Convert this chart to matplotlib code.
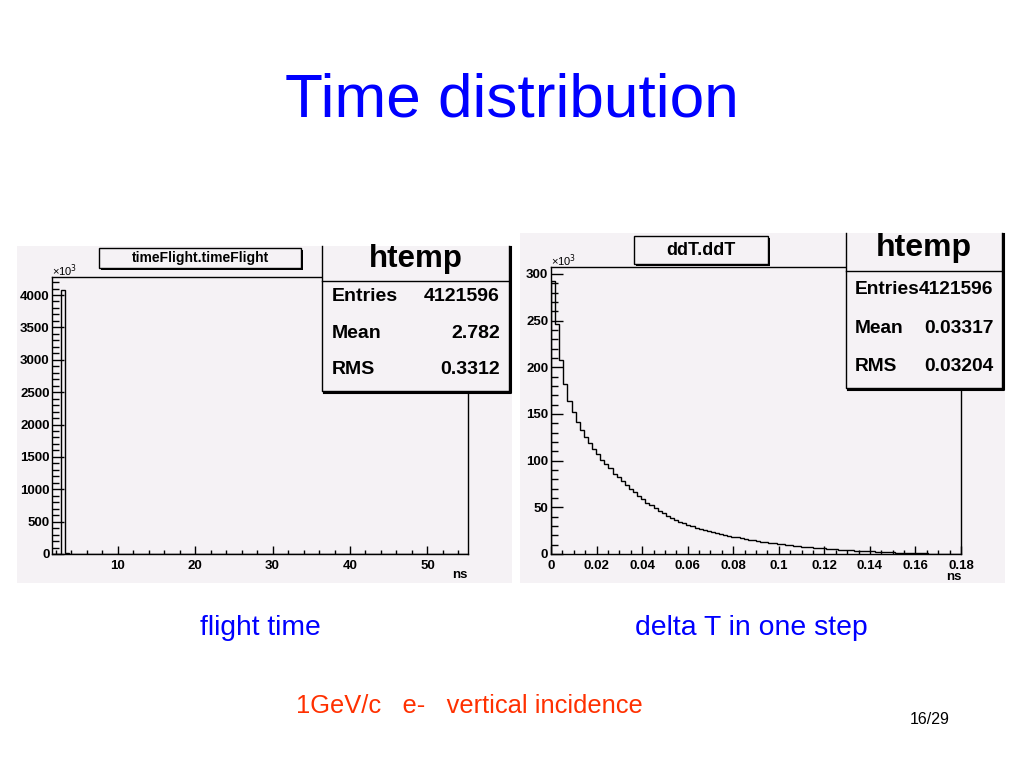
import numpy as np
import matplotlib
matplotlib.use("Agg")
import matplotlib.pyplot as plt
from matplotlib.patches import Rectangle
from matplotlib.lines import Line2D
from matplotlib.ticker import MultipleLocator, FuncFormatter

plt.rcParams['font.family'] = ['Liberation Sans', 'DejaVu Sans']

###################################################################
############################ data #################################
###################################################################
# flight time histogram (counts in 10^3), only non-empty bins listed
tof_edges = np.linspace(1.55, 55.2, 101)
tof_bin_centers = [2.89, 3.42, 3.96, 8.25, 8.79]
tof_bin_counts = [4080, 14, 4, 6, 6]

# delta T histogram (counts in 10^3), 100 bins 0 - 0.18 ns
ddt_edges = np.linspace(0.0, 0.18, 101)
ddt_counts = [292, 246, 208, 182, 164, 152, 141, 133, 125, 118.6,
              112, 107, 101, 96, 92, 86, 82, 78, 74, 70,
              66, 62.5, 59, 55, 52, 49, 46, 43.6, 41, 38.5,
              36.5, 34.5, 32.8, 31, 29.5, 28, 27, 26, 25, 23.8,
              22.6, 21.5, 20.5, 19.5, 18.6, 17.7, 16.8, 16, 15.2, 14.5,
              13.8, 13.1, 12.5, 11.9, 11.3, 10.7, 10.2, 9.7, 9.2, 8.7,
              8.3, 7.8, 7.4, 7.0, 6.6, 6.2, 5.9, 5.5, 5.2, 4.9,
              4.6, 4.3, 4.0, 3.8, 3.5, 3.3, 3.1, 2.9, 2.7, 2.5,
              2.3, 2.1, 1.9, 1.7, 1.5, 1.4, 1.2, 1.1, 1.0, 0.9,
              0.8, 0.7, 0, 0, 0, 0, 0, 0, 0, 0]
ddt_centers = 0.5 * (ddt_edges[:-1] + ddt_edges[1:])

tof_stats = [('Entries', '4121596'), ('Mean', '2.782'), ('RMS', '0.3312')]
ddt_stats = [('Entries', '4121596'), ('Mean', '0.03317'), ('RMS', '0.03204')]

W, H = 1024, 768
bg = '#f5f2f5'


def fx(x):
    return x / W


def fy(y):
    return 1 - y / H


def panel_bg(fig, x0, y0, x1, y1):
    fig.add_artist(Rectangle((fx(x0), fy(y1)), (x1 - x0) / W, (y1 - y0) / H,
                             transform=fig.transFigure, facecolor=bg,
                             edgecolor='none', zorder=0))


def fline(fig, xs, ys, lw=1.0):
    fig.add_artist(Line2D([fx(v) for v in xs], [fy(v) for v in ys],
                          transform=fig.transFigure, color='black', lw=lw,
                          zorder=5))


def title_box(fig, x0, y0, x1, y1, text, size):
    # shadow then box
    fig.add_artist(Rectangle((fx(x0 + 2), fy(y1 + 2)), (x1 - x0) / W, (y1 - y0) / H,
                             transform=fig.transFigure, facecolor='black',
                             edgecolor='none', zorder=4))
    fig.add_artist(Rectangle((fx(x0), fy(y1)), (x1 - x0) / W, (y1 - y0) / H,
                             transform=fig.transFigure, facecolor=bg,
                             edgecolor='black', lw=1, zorder=5))
    fig.text(fx((x0 + x1) / 2), fy((y0 + y1) / 2), text, ha='center', va='center',
             fontsize=size, fontweight='bold', zorder=6)


def stats_box(fig, x0, ytop, x1, y1, yhead, stats, rows_y, size, hsize, hy):
    fig.add_artist(Rectangle((fx(x0), fy(y1)), (x1 - x0) / W, (y1 - ytop) / H,
                             transform=fig.transFigure, facecolor=bg,
                             edgecolor='none', zorder=4))
    fline(fig, [x0, x0, x1, x1], [ytop, y1, y1, ytop])
    fline(fig, [x0 + 2, x1 + 2, x1 + 2], [y1 + 2, y1 + 2, ytop + 1], lw=1.5)
    fline(fig, [x0, x1], [yhead, yhead])
    fig.text(fx((x0 + x1) / 2), fy(hy), 'htemp', ha='center', va='center',
             fontsize=hsize, fontweight='bold', zorder=6)
    for (name, val), ry in zip(stats, rows_y):
        fig.text(fx(x0 + 9), fy(ry), name, ha='left', va='center',
                 fontsize=size, fontweight='bold', zorder=6)
        fig.text(fx(x1 - 9), fy(ry), val, ha='right', va='center',
                 fontsize=size, fontweight='bold', zorder=6)


def style_axes(ax, xmaj, xmin, ymaj, ymin, xlen, ylen):
    ax.set_facecolor(bg)
    for s in ax.spines.values():
        s.set_linewidth(1.0)
        s.set_color('black')
    ax.xaxis.set_major_locator(MultipleLocator(xmaj))
    ax.xaxis.set_minor_locator(MultipleLocator(xmin))
    ax.yaxis.set_major_locator(MultipleLocator(ymaj))
    ax.yaxis.set_minor_locator(MultipleLocator(ymin))
    ax.tick_params(axis='x', which='major', direction='in', length=xlen[0], width=1,
                   labelsize=9.5, pad=4, top=False)
    ax.tick_params(axis='x', which='minor', direction='in', length=xlen[1], width=1, top=False)
    ax.tick_params(axis='y', which='major', direction='in', length=ylen[0], width=1,
                   labelsize=9.5, pad=2, right=False)
    ax.tick_params(axis='y', which='minor', direction='in', length=ylen[1], width=1, right=False)
    ax.xaxis.set_major_formatter(FuncFormatter(lambda v, p: '%g' % round(v, 6)))
    ax.yaxis.set_major_formatter(FuncFormatter(lambda v, p: '%g' % round(v, 6)))


fig = plt.figure(figsize=(10.24, 7.68), dpi=100)
fig.patch.set_facecolor('white')

fig.text(fx(512), fy(101), 'Time distribution', color='#0000ff', fontsize=44.7,
         ha='center', va='center')

###################### left panel : flight time ##################
panel_bg(fig, 17, 246, 512, 583)
ax1 = fig.add_axes([fx(52.3), fy(554), (467.7 - 52.3) / W, (554 - 276.7) / H])
ax1.hist(tof_bin_centers, bins=tof_edges, weights=tof_bin_counts,
         histtype='step', color='black', lw=1)
ax1.set_xlim(tof_edges[0], tof_edges[-1])
ax1.set_ylim(0, 4283)
style_axes(ax1, 10, 2, 500, 100, (6, 3), (8.6, 5))
for lab in ax1.get_xticklabels() + ax1.get_yticklabels():
    lab.set_fontweight('bold')
fig.text(fx(52), fy(271), '×10$^{3}$', fontsize=8, ha='left', va='center')
fig.text(fx(460), fy(575), 'ns', fontsize=9.5, fontweight='bold', ha='center', va='center')
title_box(fig, 99.3, 248.3, 300.7, 267.7, 'timeFlight.timeFlight', 10)
stats_box(fig, 322.3, 246, 509, 390.7, 280.7, tof_stats, [296.7, 334, 370],
          14, 22.5, 259)

###################### right panel : delta T ######################
panel_bg(fig, 520, 233, 1005, 583)
ax2 = fig.add_axes([fx(551), fy(554), (961 - 551) / W, (554 - 267.3) / H])
ax2.hist(ddt_centers, bins=ddt_edges, weights=ddt_counts,
         histtype='step', color='black', lw=1)
ax2.set_xlim(0, 0.18)
ax2.set_ylim(0, 307)
style_axes(ax2, 0.02, 0.005, 50, 10, (6, 3), (8.6, 5))
for lab in ax2.get_xticklabels() + ax2.get_yticklabels():
    lab.set_fontweight('bold')
fig.text(fx(551), fy(261), '×10$^{3}$', fontsize=8, ha='left', va='center')
fig.text(fx(954), fy(577), 'ns', fontsize=9.5, fontweight='bold', ha='center', va='center')
title_box(fig, 634.3, 236, 768.3, 264.3, 'ddT.ddT', 13)
stats_box(fig, 846, 233, 1002.3, 387.7, 271, ddt_stats, [289.3, 328.7, 366.7],
          13.8, 23, 248)

########################## captions ###############################
fig.text(fx(260), fy(628), 'flight time', color='#0000ff', fontsize=20.3,
         ha='center', va='center')
fig.text(fx(751), fy(628), 'delta T in one step', color='#0000ff', fontsize=20.4,
         ha='center', va='center')
fig.text(fx(469), fy(706), '1GeV/c   e-   vertical incidence', color='#ff3000',
         fontsize=18.4, ha='center', va='center')
fig.text(fx(930), fy(719), '16/29', color='black', fontsize=11.5,
         ha='center', va='center')

fig.savefig('out.png', dpi=100, facecolor='white')
